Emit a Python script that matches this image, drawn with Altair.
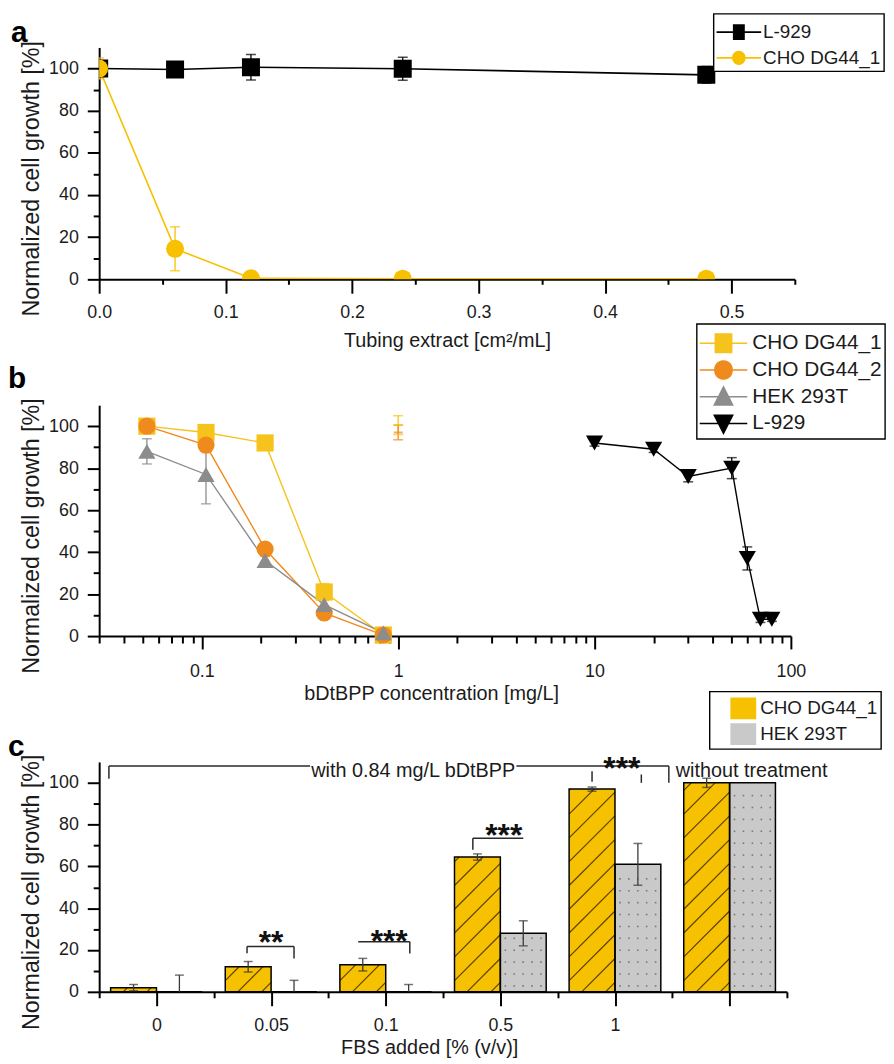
import json
import altair as alt
import numpy as np
import pandas as pd

FONT = "Liberation Sans"
TXT = "#1b1b1b"
Y_TITLE = "Normalized cell growth [%]"

# ---------------- panel a data ----------------
a_series = ["L-929", "CHO DG44_1"]
a_colors = ["#000000", "#F7C100"]
a_x = [0.0, 0.06, 0.12, 0.24, 0.48]
a_l929 = [100.0, 99.5, 100.6, 99.9, 97.0]
a_l929_err = [0.0, 1.0, 6.0, 5.5, 4.0]
a_cho1 = [100.0, 14.5, 0.5, 0.3, 0.3]
a_cho1_err = [5.0, 10.4, 0.0, 0.0, 0.0]

# ---------------- panel b data ----------------
b_series = ["CHO DG44_1", "CHO DG44_2", "HEK 293T", "L-929"]
b_colors = ["#F6C21C", "#EF8A1D", "#8C8C8C", "#000000"]
b_x_low = [0.0525, 0.105, 0.21, 0.42, 0.84]
b_cho1 = [100.0, 97.0, 92.0, 21.0, 0.5]
b_cho1_err = [1.5, 1.5, 1.5, 4.0, 0.0]
b_cho2 = [100.0, 91.0, 41.5, 11.0, 0.5]
b_cho2_err = [3.0, 3.0, 3.0, 1.5, 0.0]
b_hek = [88.0, 77.0, 36.0, 15.0, 1.5]
b_hek_err = [6.0, 14.0, 2.0, 2.5, 0.0]
b_x_l929 = [10, 20, 30, 50, 60, 70, 80]
b_l929 = [92.0, 89.0, 76.0, 80.0, 37.0, 8.0, 8.0]
b_l929_err = [1.5, 1.5, 2.5, 5.0, 5.5, 1.5, 1.0]
b_ctrl_series = ["CHO DG44_1", "CHO DG44_2"]
b_ctrl_x = [1.0, 1.0]
b_ctrl_y = [100.5, 97.0]
b_ctrl_err = [4.5, 3.5]

# ---------------- panel c data ----------------
c_series = ["CHO DG44_1", "HEK 293T"]
c_fills = ["#F5C100", "#C9C9C9"]
c_cats = ["0", "0.05", "0.1", "0.5", "1", ""]
c_cho = [2.0, 12.0, 13.0, 64.5, 97.0, 100.0]
c_cho_err = [1.5, 2.5, 3.0, 1.5, 1.0, 2.2]
c_hek = [0.0, 0.0, 0.0, 28.0, 61.0, 100.0]
c_hek_err = [8.0, 5.5, 3.5, 6.0, 10.0, 0.0]

sig_text = ["**", "***", "***", "***"]
sig_x = [1.5, 2.53, 3.53, 4.56]
sig_y = [27.0, 27.5, 78.0, 110.0]

br_x = [1.29, 1.29, 1.70, 2.26, 2.71, 3.26, 3.26, 0.085, 0.085, 3.64, 4.97, 4.30, 4.73]
br_x2 = [1.70, 1.29, 1.70, 2.71, 2.71, 3.70, 3.26, 1.84, 0.085, 4.97, 4.97, 4.30, 4.73]
br_y = [21.7, 21.7, 21.7, 24.0, 24.0, 73.5, 73.5, 108.0, 108.0, 108.0, 108.0, 105.5, 104.0]
br_y2 = [21.7, 18.5, 16.0, 24.0, 18.4, 73.5, 68.0, 108.0, 102.0, 108.0, 100.0, 100.5, 100.0]

note_text = ["with 0.84 mg/L bDtBPP", "without treatment"]
note_x = [2.74, 5.03]
note_y = [105.5, 105.5]

panel_letters = ["a", "b", "c"]

# ---------------- layout (pixels) ----------------
W_A, H_A = 702, 234
W_B, H_B = 698, 233
W_C, H_C = 694, 232
SPACING = 127

AX = dict(tickWidth=2, tickColor="black", domainColor="black", domainWidth=2, grid=False,
          labelFont=FONT, labelFontSize=18, labelColor=TXT, labelFlush=False, labelOverlap=False,
          titleFont=FONT, titleFontWeight="normal", titleColor=TXT)


def y_axis(h):
    return alt.Axis(values=list(range(0, 101, 10)),
                    labelExpr="datum.value % 20 == 0 ? datum.label : ''",
                    tickSize={"condition": {"test": "datum.value % 20 != 0", "value": 6}, "value": 12},
                    labelPadding=9, titleFontSize=23.5, titlePadding=5, titleY=h / 2 + 15, **AX)


def letter_layer(t, dx, dy):
    return alt.Chart(pd.DataFrame({"t": [t]})).mark_text(
        font=FONT, fontSize=30, fontWeight="bold", color="#000000", align="left",
        baseline="alphabetic").encode(text="t:N", x=alt.value(dx), y=alt.value(dy))


def legend(x, y, size, fs, rowpad=0, loff=2, soff=0):
    return alt.Legend(orient="none", legendX=x, legendY=y, title=None, fillColor="white",
                      strokeColor="black", padding=3, rowPadding=rowpad, labelOffset=loff,
                      symbolOffset=soff, labelFont=FONT, labelFontSize=fs, labelColor=TXT,
                      symbolSize=size, symbolStrokeWidth=0, symbolOpacity=1)


def f(v):
    return f"{v:.3f}"


def line_part(x1, h):
    return f"M-1,{f(-h)}H{f(x1)}V{f(h)}H-1Z "


def sq(cx, a, b):
    return f"M{f(cx - a)},{f(-b)}H{f(cx + a)}V{f(b)}H{f(cx - a)}Z"


def ci(cx, r):
    return (f"M{f(cx + r)},0A{f(r)},{f(r)} 0 1,1 {f(cx - r)},0"
            f"A{f(r)},{f(r)} 0 1,1 {f(cx + r)},0Z")


def tri_up(cx, w, t, b):
    return f"M{f(cx)},{f(-t)}L{f(cx + w)},{f(b)}L{f(cx - w)},{f(b)}Z"


def tri_dn(cx, w, t, b):
    return f"M{f(cx)},{f(t)}L{f(cx - w)},{f(-b)}L{f(cx + w)},{f(-b)}Z"


# =============== panel a ===============
df_a = pd.DataFrame({
    "series": [a_series[0]] * len(a_x) + [a_series[1]] * len(a_x),
    "x": a_x + a_x,
    "y": a_l929 + a_cho1,
    "err": a_l929_err + a_cho1_err,
})
df_a["lo"] = df_a.y - df_a.err
df_a["hi"] = df_a.y + df_a.err
df_a_err = df_a[df_a.err > 0]
df_a_caps = df_a_err.melt(id_vars=["series", "x"], value_vars=["lo", "hi"], value_name="cap")

MAJ_A = "abs(datum.value * 10 - round(datum.value * 10)) < 1e-6"
axis_ax = alt.Axis(values=[round(0.05 * i, 2) for i in range(12)],
                   labelExpr=f"{MAJ_A} ? format(datum.value, '.1f') : ''",
                   tickSize={"condition": {"test": MAJ_A, "value": 14}, "value": 5},
                   labelPadding=11, titlePadding=9, titleFontSize=20, **AX)


def ax(fld):
    return alt.X(fld, scale=alt.Scale(domain=[0, 0.55], nice=False, zero=False), axis=axis_ax,
                 title="Tubing extract [cm²/mL]")


def ay(fld):
    return alt.Y(fld, scale=alt.Scale(domain=[0, 110], nice=False), axis=y_axis(H_A), title=Y_TITLE)


col_a = alt.Color("series:N", scale=alt.Scale(domain=a_series, range=a_colors), legend=None)
shp_a = alt.Shape("series:N", scale=alt.Scale(domain=a_series, range=["square", "circle"]), legend=None)
# legend glyph: 45 px line with marker, nominal symbol box 31 px
ua = 31 / 2.0
xa1 = -1 + 45 / ua
ca = (-1 + xa1) / 2
leg_a = legend(620, -34, 31 ** 2, 19, loff=16)
shp_a_leg = [line_part(xa1, 0.9 / ua) + sq(ca, 6 / ua, 8 / ua),
             line_part(xa1, 0.9 / ua) + ci(ca, 6.8 / ua)]

pa = alt.layer(
    alt.Chart(df_a).mark_line(strokeWidth=1.6, clip=True).encode(x=ax("x:Q"), y=ay("y:Q"), color=col_a),
    alt.Chart(df_a_err).mark_rule(strokeWidth=1.3, clip=True).encode(x=ax("x:Q"), y=ay("lo:Q"), y2="hi:Q", color=col_a),
    alt.Chart(df_a_caps).mark_tick(orient="horizontal", size=10, thickness=1.5, clip=True).encode(
        x=ax("x:Q"), y=ay("cap:Q"), color=col_a),
    alt.Chart(df_a).mark_point(filled=True, size=330, opacity=1, clip=True).encode(
        x=ax("x:Q"), y=ay("y:Q"), color=col_a, shape=shp_a),
    alt.Chart(pd.DataFrame({"series": a_series})).mark_point(filled=True, clip=True, opacity=1).encode(
        x=alt.value(-500), y=alt.value(-500),
        color=alt.Color("series:N", scale=alt.Scale(domain=a_series, range=a_colors), legend=leg_a),
        shape=alt.Shape("series:N", scale=alt.Scale(domain=a_series, range=shp_a_leg), legend=leg_a)),
    letter_layer(panel_letters[0], -89, -5),
).resolve_scale(color="independent", shape="independent").properties(width=W_A, height=H_A)

# =============== panel b ===============
rows = []
for s, ys, es in [(b_series[0], b_cho1, b_cho1_err), (b_series[1], b_cho2, b_cho2_err),
                  (b_series[2], b_hek, b_hek_err)]:
    for xv, yv, ev in zip(b_x_low, ys, es):
        rows.append({"series": s, "x": xv, "y": yv, "err": ev})
for xv, yv, ev in zip(b_x_l929, b_l929, b_l929_err):
    rows.append({"series": b_series[3], "x": xv, "y": yv, "err": ev})
df_b = pd.DataFrame(rows)
df_ctrl = pd.DataFrame({"series": b_ctrl_series, "x": b_ctrl_x, "y": b_ctrl_y, "err": b_ctrl_err})
df_b_err = pd.concat([df_b[df_b.err > 0], df_ctrl], ignore_index=True)
df_b_err["lo"] = df_b_err.y - df_b_err.err
df_b_err["hi"] = df_b_err.y + df_b_err.err
df_b_caps = df_b_err.melt(id_vars=["series", "x"], value_vars=["lo", "hi"], value_name="cap")

b_ticks = sorted({round(k * 10.0 ** e, 6) for e in range(-2, 3) for k in range(1, 10)
                  if 0.03 - 1e-9 <= k * 10.0 ** e <= 100 + 1e-9})
MAJ_B = "abs(log(datum.value) / LN10 - round(log(datum.value) / LN10)) < 1e-6"
axis_bx = alt.Axis(values=b_ticks, labelExpr=f"{MAJ_B} ? format(datum.value, '~g') : ''",
                   tickSize={"condition": {"test": MAJ_B, "value": 13}, "value": 7},
                   labelPadding=14, titlePadding=3, titleFontSize=20, titleX=W_B / 2 - 14, **AX)


def bx(fld):
    return alt.X(fld, scale=alt.Scale(type="log", domain=[0.03, 100], nice=False), axis=axis_bx,
                 title="bDtBPP concentration [mg/L]")


def by(fld):
    return alt.Y(fld, scale=alt.Scale(domain=[0, 110], nice=False), axis=y_axis(H_B), title=Y_TITLE)


col_b = alt.Color("series:N", scale=alt.Scale(domain=b_series, range=b_colors), legend=None)
shp_b = alt.Shape("series:N", scale=alt.Scale(domain=b_series,
                  range=["square", "circle", "triangle-up", "triangle-down"]), legend=None)
ub = 33 / 2.0
xb1 = -1 + 48 / ub
cb = (-1 + xb1) / 2
lb = line_part(xb1, 0.8 / ub)
leg_b = legend(603, -82, 33 ** 2, 21, loff=20)
shp_b_leg = [lb + sq(cb, 9 / ub, 10 / ub), lb + ci(cb, 9.5 / ub),
             lb + tri_up(cb, 10.5 / ub, 11.5 / ub, 9 / ub), lb + tri_dn(cb, 10.5 / ub, 11.5 / ub, 9 / ub)]

pb = alt.layer(
    alt.Chart(df_b).mark_line(strokeWidth=1.4).encode(x=bx("x:Q"), y=by("y:Q"), color=col_b),
    alt.Chart(df_b_err).mark_rule(strokeWidth=1.3).encode(x=bx("x:Q"), y=by("lo:Q"), y2="hi:Q", color=col_b),
    alt.Chart(df_b_caps).mark_tick(orient="horizontal", size=10, thickness=1.5).encode(
        x=bx("x:Q"), y=by("cap:Q"), color=col_b),
    alt.Chart(df_ctrl).mark_tick(orient="horizontal", size=9, thickness=2).encode(
        x=bx("x:Q"), y=by("y:Q"), color=col_b),
    alt.Chart(df_b).mark_point(filled=True, opacity=1).encode(
        x=bx("x:Q"), y=by("y:Q"), color=col_b, shape=shp_b,
        size=alt.Size("series:N", scale=alt.Scale(domain=b_series, range=[300, 300, 380, 450]), legend=None)),
    alt.Chart(pd.DataFrame({"series": b_series})).mark_point(filled=True, clip=True, opacity=1).encode(
        x=alt.value(-500), y=alt.value(-500),
        color=alt.Color("series:N", scale=alt.Scale(domain=b_series, range=b_colors), legend=leg_b),
        shape=alt.Shape("series:N", scale=alt.Scale(domain=b_series, range=shp_b_leg), legend=leg_b)),
    letter_layer(panel_letters[1], -92, -17),
).resolve_scale(color="independent", shape="independent", size="independent").properties(
    width=W_B, height=H_B)

# =============== panel c ===============
bar_rows = []
for i, cat in enumerate(c_cats):
    bar_rows.append({"series": c_series[0], "x0": i + 0.1, "x1": i + 0.5, "v": c_cho[i], "err": c_cho_err[i]})
    bar_rows.append({"series": c_series[1], "x0": i + 0.5, "x1": i + 0.9, "v": c_hek[i], "err": c_hek_err[i]})
df_c = pd.DataFrame(bar_rows)
df_c["base"] = 0.0
df_c["xm"] = (df_c.x0 + df_c.x1) / 2
df_c["lo"] = (df_c.v - df_c.err).clip(lower=0)
df_c["hi"] = df_c.v + df_c.err
df_c_err = df_c[df_c.err > 0]
caps_rows = []
for _, r in df_c_err.iterrows():
    caps_rows.append({"xm": r.xm, "cap": r.hi})
    if r.v - r.err > 0:
        caps_rows.append({"xm": r.xm, "cap": r.lo})
df_c_caps = pd.DataFrame(caps_rows)

# hatch ("/") and dot textures derived from the bar geometry
ux, uy = W_C / 6.0, H_C / 110.0
P = 24.0
hatch = []
dots = []
for _, r in df_c.iterrows():
    bw = (r.x1 - r.x0) * ux
    bh = r.v * uy
    if bh <= 0:
        continue
    if r.series == c_series[0]:
        cval = -bw + P * 0.4
        while cval < bh:
            u0 = max(0.0, -cval)
            u1 = min(bw, bh - cval)
            if u1 - u0 > 0.6:
                hatch.append({"hx": r.x0 + u0 / ux, "hx2": r.x0 + u1 / ux,
                              "hy": (u0 + cval) / uy, "hy2": (u1 + cval) / uy})
            cval += P
    else:
        w = 6.0
        while w < bh - 4:
            u = 5.0
            while u < bw - 3:
                dots.append({"dx": r.x0 + u / ux, "dy": w / uy})
                u += 9.0
            w += 12.0
df_hatch = pd.DataFrame(hatch)
df_dots = pd.DataFrame(dots)

c_ticks = [i * 0.5 for i in range(13)]
axis_cx = alt.Axis(values=c_ticks,
                   labelExpr=f"datum.value % 1 == 0 ? '' : {json.dumps(c_cats)}[floor(datum.value)]",
                   tickSize={"condition": {"test": "datum.value % 1 == 0", "value": 6}, "value": 14},
                   labelPadding=11, titlePadding=3, titleFontSize=20, titleX=W_C / 2 - 14, **AX)


def cx(fld):
    return alt.X(fld, scale=alt.Scale(domain=[0, 6], nice=False, zero=False), axis=axis_cx,
                 title="FBS added [% (v/v)]")


def cy(fld):
    return alt.Y(fld, scale=alt.Scale(domain=[0, 110], nice=False), axis=y_axis(H_C), title=Y_TITLE)


leg_c = legend(616, -71, 28 ** 2, 19, loff=3, soff=17)
hx_, hy_ = 13 / 14.0, 11 / 14.0
hatch_sym = sq(0, hx_, hy_) + " M-0.93,0.05L-0.1,-0.78 M-0.9,0.78L0.66,-0.78 M0.1,0.78L0.93,-0.05"
dot_sym = sq(0, hx_, hy_) + "".join(
    f" M{px},{py}h0.05v0.05h-0.05Z" for px in (-0.55, -0.05, 0.45) for py in (-0.45, 0.1, 0.55))

pc = alt.layer(
    alt.Chart(df_c).mark_rect().encode(
        x=cx("x0:Q"), x2="x1:Q", y=cy("v:Q"), y2="base:Q",
        fill=alt.Fill("series:N", scale=alt.Scale(domain=c_series, range=c_fills), legend=None)),
    alt.Chart(df_hatch).mark_rule(color="#5e4100", strokeWidth=1.2).encode(
        x=cx("hx:Q"), x2="hx2:Q", y=cy("hy:Q"), y2="hy2:Q"),
    alt.Chart(df_dots).mark_square(size=2.5, color="#6f6f6f", opacity=0.9).encode(
        x=cx("dx:Q"), y=cy("dy:Q")),
    alt.Chart(df_c).mark_rect(fill="white", fillOpacity=0, stroke="black", strokeWidth=1.5).encode(
        x=cx("x0:Q"), x2="x1:Q", y=cy("v:Q"), y2="base:Q"),
    alt.Chart(df_c_err).mark_rule(color="#3a3a3a", strokeWidth=1.3).encode(
        x=cx("xm:Q"), y=cy("lo:Q"), y2="hi:Q"),
    alt.Chart(df_c_caps).mark_tick(orient="horizontal", size=9, thickness=1.5, color="#3a3a3a").encode(
        x=cx("xm:Q"), y=cy("cap:Q")),
    alt.Chart(pd.DataFrame({"x": br_x, "x2": br_x2, "y": br_y, "y2": br_y2})).mark_rule(
        color="#2a2a2a", strokeWidth=1.5).encode(x=cx("x:Q"), x2="x2:Q", y=cy("y:Q"), y2="y2:Q"),
    alt.Chart(pd.DataFrame({"t": sig_text, "x": sig_x, "y": sig_y})).mark_text(
        font=FONT, fontSize=32, fontWeight="bold", color="#111111", baseline="alphabetic", dy=17.5).encode(
        x=cx("x:Q"), y=cy("y:Q"), text="t:N"),
    alt.Chart(pd.DataFrame({"t": note_text[:1], "x": note_x[:1], "y": note_y[:1]})).mark_text(
        font=FONT, fontSize=20, color=TXT, baseline="middle", align="center").encode(
        x=cx("x:Q"), y=cy("y:Q"), text="t:N"),
    alt.Chart(pd.DataFrame({"t": note_text[1:], "x": note_x[1:], "y": note_y[1:]})).mark_text(
        font=FONT, fontSize=20, color=TXT, baseline="middle", align="left").encode(
        x=cx("x:Q"), y=cy("y:Q"), text="t:N"),
    alt.Chart(pd.DataFrame({"series": c_series})).mark_point(filled=False, clip=True, opacity=1).encode(
        x=alt.value(-500), y=alt.value(-500),
        fill=alt.Fill("series:N", scale=alt.Scale(domain=c_series, range=c_fills), legend=leg_c),
        shape=alt.Shape("series:N", scale=alt.Scale(domain=c_series, range=[hatch_sym, dot_sym]), legend=leg_c),
        stroke=alt.value("black"), strokeWidth=alt.value(1.2)),
    letter_layer(panel_letters[2], -92, -6),
).resolve_scale(fill="independent", shape="independent").properties(width=W_C, height=H_C)

chart = alt.vconcat(pa, pb, pc, spacing=SPACING, bounds="flush").properties(
    padding=0
).configure_view(stroke=None).configure_legend(strokeWidth=1.4)

chart.save("out.html", embed_options={"renderer": "svg", "actions": False})
